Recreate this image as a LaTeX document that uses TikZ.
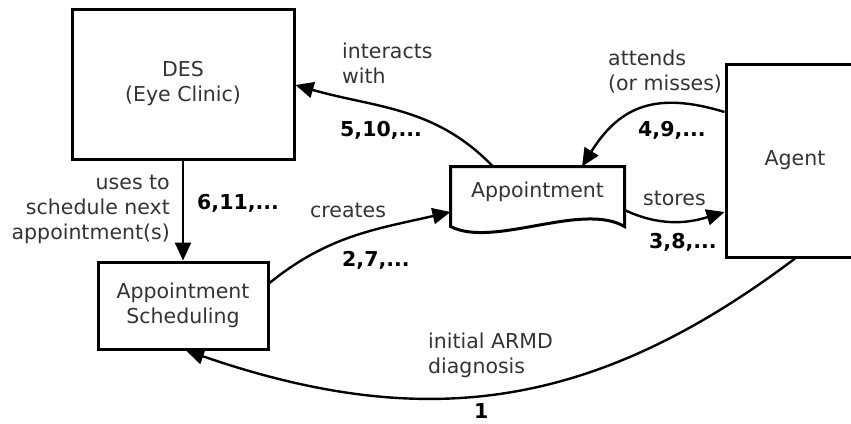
\documentclass[tikz,border=0pt]{standalone}
\usepackage{fontspec}
\setmainfont{DejaVu Sans}
\usetikzlibrary{arrows.meta,calc}
\definecolor{textGray}{HTML}{333333}
\definecolor{lineInk}{HTML}{000000}

\begin{document}
\begin{tikzpicture}[x=1pt, y=1pt, >={Triangle[length=18pt,width=16pt]},
          box/.style={draw=lineInk, line width=3pt, inner sep=0pt, align=center, text=textGray, font=\fontsize{20.5}{25}\selectfont},
          flow/.style={->, draw=lineInk, line width=2.4pt},
          lbl/.style={inner sep=0pt, anchor=base west, align=left, text=textGray, font=\fontsize{20.5}{25}\selectfont},
          order/.style={inner sep=0pt, anchor=base west, font=\bfseries\fontsize{20.5}{25}\selectfont}]
        \useasboundingbox (0,0) rectangle (851,-423);
        \node[box, minimum width=222pt, minimum height=150pt] (des) at (183,-84) {DES\\(Eye Clinic)};
        \node[box, minimum width=170pt, minimum height=87pt] (sched) at (183,-305.5) {Appointment\\Scheduling};
        \node[box, minimum width=138pt, minimum height=193pt] (agent) at (795,-160.5) {Agent};
        \node[box, draw=none, minimum width=171pt, minimum height=48pt] (appt) at (537.5,-192) {Appointment};
        \draw[lineInk, line width=3pt] (appt.north west) -- (appt.north east) -- ([yshift=-9pt]appt.south east)
          .. controls +(-43,25) and +(43,-22) .. ([yshift=-9pt]appt.south west) -- cycle;
        \draw[flow] (des.south) -- (sched.north);
        \draw[flow] ([yshift=22.5pt]sched.east) to[out=39, in=193] ([yshift=-20pt]appt.west);
        \draw[flow] ([xshift=-44.5pt]appt.north) to[out=134, in=-16] ([yshift=-1pt]des.east);
        \draw[flow] ([yshift=48.5pt]agent.west) to[out=163, in=58, looseness=1.2] ([xshift=44.5pt]appt.north);
        \draw[flow] ([yshift=-18pt]appt.east) to[out=-25, in=197] ([yshift=-51.5pt]agent.west);
        \draw[flow] (agent.south) to[out=217, in=-19, looseness=1.05] ([xshift=3pt]sched.south);
        \node[lbl, anchor=base east, align=right] (uses) at (170,-239) {uses to\\schedule next\\appointment(s)};
        \node[order] (n6) at (197,-209) {6,11,...};
        \node[lbl] (creates) at (310,-217) {creates};
        \node[order] (n2) at (342,-266) {2,7,...};
        \node[lbl] (inter) at (342,-83) {interacts\\with};
        \node[order] (n5) at (340,-136) {5,10,...};
        \node[lbl] (attends) at (608,-90) {attends\\(or misses)};
        \node[order] (n4) at (638,-136) {4,9,...};
        \node[lbl] (stores) at (643,-205) {stores};
        \node[order] (n3) at (649,-248) {3,8,...};
        \node[lbl] (diag) at (428,-373) {initial ARMD\\diagnosis};
        \node[order] (n1) at (474,-418) {1};
      \end{tikzpicture}
\end{document}
